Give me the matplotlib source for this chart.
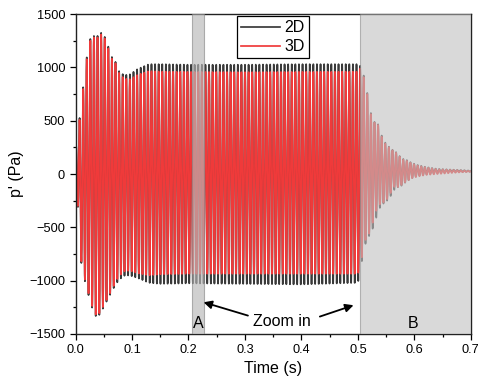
import numpy as np
import matplotlib
matplotlib.use("Agg")
import matplotlib.pyplot as plt
from matplotlib.ticker import MultipleLocator

plt.rcParams['font.family'] = ['Liberation Sans', 'DejaVu Sans']

# Envolventes (Pa) en los tiempos t_knots (s)
t_knots = [0.000, 0.004, 0.008, 0.013, 0.019, 0.026, 0.032, 0.038, 0.045, 0.051,
           0.058, 0.064, 0.071, 0.077, 0.085, 0.095, 0.110, 0.130, 0.150, 0.200,
           0.300, 0.400, 0.500, 0.505, 0.510, 0.516, 0.522, 0.529, 0.536, 0.543,
           0.550, 0.557, 0.564, 0.570, 0.577, 0.585, 0.595, 0.605, 0.620, 0.640,
           0.670, 0.700]

upper_2d = [240, 400, 560, 790, 1070, 1265, 1295, 1290, 1325, 1295,
            1195, 1100, 1050, 965, 930, 930, 985, 1030, 1030, 1025,
            1025, 1030, 1030, 1010, 930, 780, 585, 490, 465, 345,
            280, 245, 215, 198, 145, 135, 105, 85, 66, 48,
            40, 32]
lower_2d = [-200, -300, -760, -920, -1060, -1190, -1300, -1350, -1300, -1235,
            -1165, -1105, -1035, -995, -955, -950, -975, -1020, -1030, -1025,
            -1030, -1035, -1020, -900, -700, -620, -560, -480, -340, -285,
            -260, -215, -150, -125, -110, -75, -40, -18, -3, 10,
            20, 22]

upper_3d = [230, 390, 540, 775, 1053, 1250, 1281, 1275, 1309, 1281,
            1178, 1084, 1037, 950, 900, 885, 930, 965, 960, 958,
            955, 958, 960, 995, 915, 770, 575, 484, 459, 334,
            272, 241, 209, 194, 138, 128, 100, 80, 62, 44,
            37, 28]
lower_3d = [-190, -290, -745, -905, -1040, -1175, -1285, -1335, -1285, -1220,
            -1150, -1090, -1010, -960, -915, -905, -930, -950, -940, -935,
            -935, -935, -935, -870, -655, -590, -540, -400, -291, -275,
            -250, -188, -120, -124, -103, -72, -40, -25, -9, 0,
            12, 22]

freq = 157.0   # Hz, contado en el gráfico
phase = 0.85

series_labels = ["2D", "3D"]
series_colors = ["#3a3a3a", "#f03a3a"]


def build_signal(t, upper, lower):
    up = np.interp(t, t_knots, upper)
    lo = np.interp(t, t_knots, lower)
    mid = 0.5 * (up + lo)
    half = 0.5 * (up - lo)
    return mid + half * np.sin(2 * np.pi * freq * t + phase)


t = np.linspace(0, 0.7, 12000)
p2d = build_signal(t, upper_2d, lower_2d)
p3d = build_signal(t, upper_3d, lower_3d)

fig = plt.figure(figsize=(4.78, 3.85), dpi=100)
ax = fig.add_axes([0.158, 0.1325, 0.827, 0.831])

ax.plot(t, p2d, color=series_colors[0], lw=1.25, label=series_labels[0], zorder=2)
ax.plot(t, p3d, color=series_colors[1], lw=1.25, label=series_labels[1], zorder=2)

# Zonas sombreadas A y B
ax.axvspan(0.206, 0.227, facecolor='#b8b8b8', edgecolor='#8a8a8a', alpha=0.65, lw=0.8, zorder=3)
ax.axvspan(0.504, 0.700, facecolor='#c0c0c0', edgecolor='#8a8a8a', alpha=0.6, lw=0.8, zorder=3)

ax.text(0.217, -1400, "A", fontsize=11.5, ha='center', va='center', zorder=5)
ax.text(0.598, -1400, "B", fontsize=11.5, ha='center', va='center', zorder=5)
ax.text(0.365, -1380, "Zoom in", fontsize=11.5, ha='center', va='center', zorder=5)
arrow = dict(arrowstyle='-|>', color='black', lw=1.3, mutation_scale=12)
ax.annotate("", xy=(0.222, -1195), xytext=(0.310, -1335), arrowprops=arrow, zorder=5)
ax.annotate("", xy=(0.497, -1222), xytext=(0.428, -1345), arrowprops=arrow, zorder=5)

ax.set_xlim(0, 0.7)
ax.set_ylim(-1500, 1500)
ax.xaxis.set_major_locator(MultipleLocator(0.1))
ax.xaxis.set_minor_locator(MultipleLocator(0.05))
ax.yaxis.set_major_locator(MultipleLocator(500))
ax.yaxis.set_minor_locator(MultipleLocator(250))
ax.set_xticklabels([f"{v:.1f}" for v in ax.get_xticks()])
ax.tick_params(which='major', direction='out', length=4, width=0.9, labelsize=9.2)
ax.tick_params(which='minor', direction='out', length=2.5, width=0.9)
for sp in ax.spines.values():
    sp.set_linewidth(1.0)
    sp.set_color('#222222')

ax.set_xlabel("Time (s)", fontsize=11.5, labelpad=3)
ax.set_ylabel("p' (Pa)", fontsize=11.5, labelpad=4)

leg = ax.legend(loc='upper center', bbox_to_anchor=(0.5, 1.0), fontsize=11.5,
                frameon=True, fancybox=False, edgecolor='black', framealpha=1,
                handlelength=2.4, handletextpad=0.3, labelspacing=0.25,
                borderpad=0.25, borderaxespad=0.15)
leg.get_frame().set_linewidth(0.9)
leg.set_zorder(6)

fig.savefig("out.png", dpi=100)
